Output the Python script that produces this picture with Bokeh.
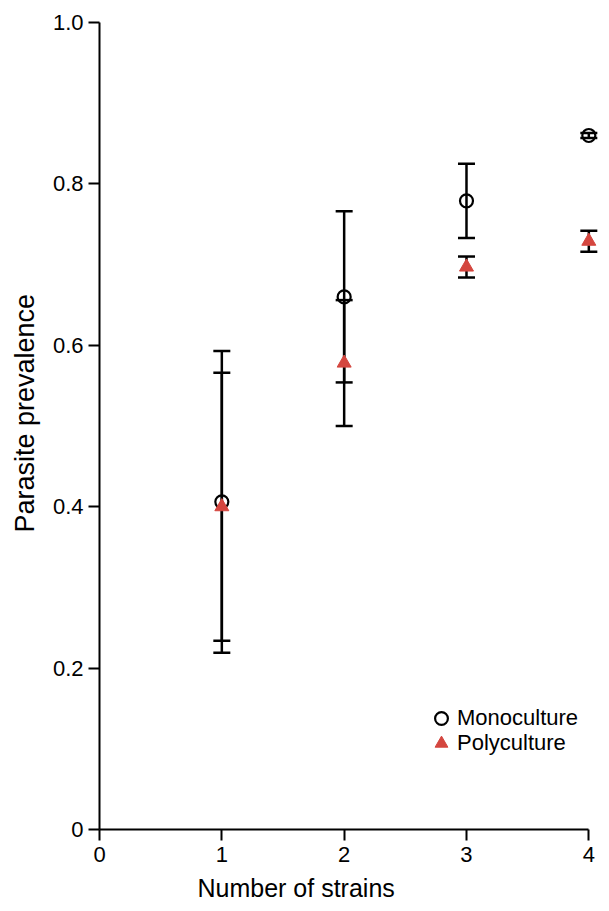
from bokeh.plotting import figure
from bokeh.models import (ColumnDataSource, Whisker, TeeHead, Legend, LegendItem,
                          FixedTicker, Title)
from bokeh.embed import file_html
from bokeh.resources import INLINE

# ---- data ----
strains = [1, 2, 3, 4]
mono_mean = [0.406, 0.660, 0.779, 0.860]
mono_err = [0.187, 0.106, 0.046, 0.003]
poly_mean = [0.400, 0.578, 0.697, 0.729]
poly_err = [0.166, 0.078, 0.013, 0.013]

x_ticks = [0, 1, 2, 3, 4]
y_ticks = [0, 0.2, 0.4, 0.6, 0.8, 1.0]
y_tick_labels = ["0", "0.2", "0.4", "0.6", "0.8", "1.0"]
series_names = ["Monoculture", "Polyculture"]
x_title = "Number of strains"
y_title = "Parasite prevalence"

RED = "#d4463f"
FONT = "Liberation Sans"

mono = ColumnDataSource(dict(x=strains, y=mono_mean,
                             lo=[m - e for m, e in zip(mono_mean, mono_err)],
                             hi=[m + e for m, e in zip(mono_mean, mono_err)]))
poly = ColumnDataSource(dict(x=strains, y=poly_mean,
                             lo=[m - e for m, e in zip(poly_mean, poly_err)],
                             hi=[m + e for m, e in zip(poly_mean, poly_err)]))

p = figure(width=607, height=909, x_range=(0, 4.12), y_range=(0, 1.0),
           output_backend="svg", toolbar_location=None,
           min_border_left=99, min_border_right=4, min_border_top=22,
           min_border_bottom=80)
p.outline_line_color = None
p.grid.visible = False
p.background_fill_color = "white"

for ax in (p.xaxis[0], p.yaxis[0]):
    ax.axis_line_width = 2
    ax.axis_line_color = "black"
    ax.major_tick_line_width = 2
    ax.major_tick_line_color = "black"
    ax.major_tick_out = 11
    ax.major_tick_in = 0
    ax.minor_tick_line_color = None
    ax.major_label_text_font = FONT
    ax.major_label_text_font_size = "22px"
    ax.major_label_text_color = "black"

p.xaxis.ticker = FixedTicker(ticks=x_ticks)
p.xaxis.bounds = (0, 4)
p.xaxis.major_label_standoff = 6
p.yaxis.ticker = FixedTicker(ticks=y_ticks)
p.yaxis.major_label_overrides = {t: s for t, s in zip(y_ticks, y_tick_labels)}
p.yaxis.major_label_standoff = 5

for src in (mono, poly):
    w = Whisker(source=src, base="x", lower="lo", upper="hi",
                line_color="black", line_width=2.5,
                upper_head=TeeHead(size=17, line_width=2.5, line_color="black"),
                lower_head=TeeHead(size=17, line_width=2.5, line_color="black"))
    p.add_layout(w)

r_mono = p.scatter("x", "y", source=mono, marker="circle", size=13,
                   fill_color=None, line_color="black", line_width=2.2)
r_poly = p.scatter("x", "y", source=poly, marker="triangle", size=14,
                   fill_color=RED, line_color=RED, line_width=1)

legend_style = dict(orientation="vertical", glyph_width=32, glyph_height=32,
                    label_standoff=-4, padding=0, margin=0,
                    label_text_font=FONT, label_text_font_size="22px",
                    label_text_color="black",
                    border_line_alpha=0, background_fill_alpha=0)
leg_mono = Legend(items=[LegendItem(label=series_names[0], renderers=[r_mono])],
                  location=(326, 95), **legend_style)
leg_poly = Legend(items=[LegendItem(label=series_names[1], renderers=[r_poly])],
                  location=(326, 70), **legend_style)
p.add_layout(leg_mono, "center")
p.add_layout(leg_poly, "center")

p.add_layout(Title(text=x_title, align="left", offset=98, text_font=FONT,
                   text_font_size="25px", text_font_style="normal",
                   text_color="black", standoff=14), "below")
p.add_layout(Title(text=y_title, align="left", offset=297, text_font=FONT,
                   text_font_size="27px", text_font_style="normal",
                   text_color="black", standoff=15, vertical_align="top"), "left")

open("out.html", "w").write(file_html(p, INLINE))
